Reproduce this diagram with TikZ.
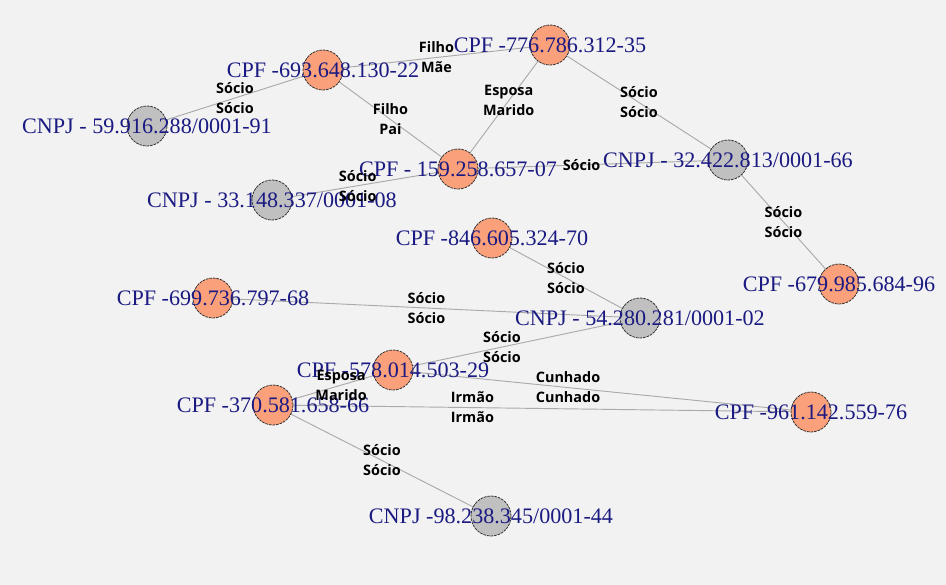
\documentclass[tikz,border=0pt]{standalone}
\usepackage{fontspec}
\setmainfont{Liberation Serif}
\newfontfamily\relfont{Open Sans}
\usetikzlibrary{backgrounds}

\definecolor{salmao}{RGB}{250,160,122}
\definecolor{cinza}{RGB}{192,192,192}
\definecolor{azul}{RGB}{26,26,130}
\definecolor{linha}{RGB}{170,170,170}
\definecolor{fundo}{RGB}{242,242,242}

\begin{document}
\begin{tikzpicture}[x=0.75pt, y=-0.75pt,
		pessoa/.style={circle, draw=black!80, dash pattern=on 2pt off 0.7pt, line width=0.6pt, fill=salmao, minimum size=30pt, inner sep=0pt},
		empresa/.style={pessoa, fill=cinza},
		nome/.style={text=azul, font=\fontsize{16.6}{18}\selectfont, inner sep=0pt},
		rel/.style={draw=linha, line width=0.7pt},
		papel/.style={font=\relfont\bfseries\fontsize{10.8}{15}\selectfont, align=center, inner sep=0pt}]
				\begin{scope}[on background layer]
					\fill[fundo] (0,0) rectangle (946,585);
				\end{scope}
				\useasboundingbox (0,0) rectangle (946,585);
				
				\node[pessoa, label={[nome]center:CPF -693.648.130-22}] (p693) at (323,70) {};
				\node[pessoa, label={[nome]center:CPF -776.786.312-35}] (p776) at (550,45) {};
				\node[empresa, label={[nome]center:CNPJ - 59.916.288/0001-91}] (c599) at (147,126) {};
				\node[pessoa, label={[nome]center:CPF - 159.258.657-07}] (p159) at (458,169) {};
				\node[empresa, label={[nome]center:CNPJ - 33.148.337/0001-08}] (c331) at (272,200) {};
				\node[empresa, label={[nome]center:CNPJ - 32.422.813/0001-66}] (c324) at (728,160) {};
				\node[pessoa, label={[nome]center:CPF -679.985.684-96}] (p679) at (839,284) {};
				\node[pessoa, label={[nome]center:CPF -846.605.324-70}] (p846) at (492,238) {};
				\node[pessoa, label={[nome]center:CPF -699.736.797-68}] (p699) at (213,298) {};
				\node[empresa, label={[nome]center:CNPJ - 54.280.281/0001-02}] (c542) at (640,318) {};
				\node[pessoa, label={[nome]center:CPF -578.014.503-29}] (p578) at (393,370) {};
				\node[pessoa, label={[nome]center:CPF -370.581.658-66}] (p370) at (273,405) {};
				\node[pessoa, label={[nome]center:CPF -961.142.559-76}] (p961) at (811,412) {};
				\node[empresa, label={[nome]center:CNPJ -98.238.345/0001-44}] (c982) at (491,516) {};
				
				\foreach \a/\b/\t/\p in {p693/c599/Sócio\\Sócio/0.5, p693/p776/Filho\\Mãe/0.5,
					p693/p159/Filho\\Pai/0.5, p776/p159/Esposa\\Marido/0.43, p776/c324/Sócio\\Sócio/0.5,
					p159/c331/Sócio\\Sócio/0.55, p159/c324/Sócio/0.45, c324/p679/Sócio\\Sócio/0.5,
					p846/c542/Sócio\\Sócio/0.5, p699/c542/Sócio\\Sócio/0.5, p578/c542/Sócio\\Sócio/0.43,
					p370/p578/Esposa\\Marido/0.6, p578/p961/Cunhado\\Cunhado/0.41,
					p370/p961/Irmão\\Irmão/0.36, p370/c982/Sócio\\Sócio/0.5} {
					\begin{scope}[on background layer]
						\draw[rel] (\a) -- (\b);
					\end{scope}
					\path (\a) -- node[papel, pos=\p] {\t} (\b);
				}
			\end{tikzpicture}
\end{document}
